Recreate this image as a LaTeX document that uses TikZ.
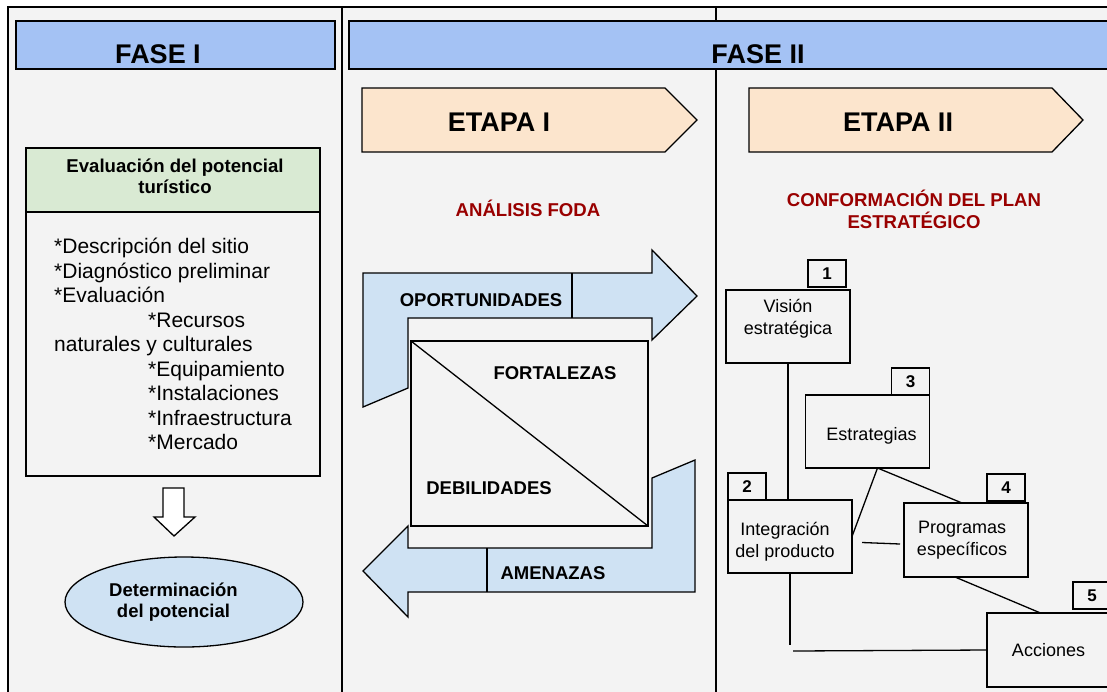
\documentclass[tikz,border=0pt]{standalone}
\usepackage{fontspec}
\setmainfont{Liberation Sans}
\usetikzlibrary{positioning,calc,shapes.geometric}

\definecolor{fasecol}{HTML}{A4C2F4}
\definecolor{etapacol}{HTML}{FCE5CD}
\definecolor{evalcol}{HTML}{D9EAD3}
\definecolor{celeste}{HTML}{CFE2F3}
\definecolor{rojo}{HTML}{990000}
\definecolor{fondo}{HTML}{F3F3F3}

\tikzset{
  caja/.style={draw, line width=1.3pt, inner sep=0pt, outer sep=0pt},
  pasotxt/.style={align=center, font=\fontsize{18}{22}\selectfont},
  paso/.style={caja, fill=fondo, minimum width=124, minimum height=73, pasotxt},
  numero/.style={caja, fill=fondo, minimum width=38, minimum height=27, font=\bfseries\fontsize{17}{20}\selectfont},
  fasetxt/.style={font=\bfseries\fontsize{27}{30}\selectfont},
  etapa/.style={draw, line width=1.3pt, fill=etapacol},
  flecha/.style={draw, line width=1.3pt, fill=celeste},
  rojotxt/.style={text=rojo, align=center, font=\bfseries\fontsize{18.6}{22}\selectfont},
  fodatxt/.style={font=\bfseries\fontsize{18.5}{20}\selectfont},
  linea/.style={line width=1.3pt}
}

\begin{document}
\begin{tikzpicture}[x=1pt, y=-1pt]
\useasboundingbox (0,0) rectangle (1107,691);

% marco y columnas
\draw[fill=fondo, line width=1.6pt] (8,7) rectangle (1120,700);
\draw[line width=1.6pt] (342,7) -- (342,700) (716,7) -- (716,700);

% fases
\draw[fill=fasecol, line width=1.3pt] (16,21) rectangle (335,69);
\node[fasetxt] (faseA) at (158,54) {FASE I};
\draw[fill=fasecol, line width=1.3pt] (349,21) rectangle (1120,69);
\node[fasetxt] (faseB) at (758,54) {FASE II};

% etapas
\draw[etapa] (362,88) -- (665,88) -- (697,120) -- (665,152) -- (362,152) -- cycle;
\node[fasetxt] (etapaA) at (499,122) {ETAPA I};
\draw[etapa] (749,88) -- (1052,88) -- (1083,120) -- (1052,152) -- (749,152) -- cycle;
\node[fasetxt] (etapaB) at (898,122) {ETAPA II};

\node[rojotxt] (foda) at (528,208) {ANÁLISIS FODA};
\node[rojotxt] (plan) at (914,209) {CONFORMACIÓN DEL PLAN\\ESTRATÉGICO};

% fase I
\node[caja, fill=evalcol, minimum width=294, minimum height=64] (evalhead) at (173,180) {};
\node[align=center, font=\bfseries\fontsize{18.6}{21}\selectfont] (evaltxt) at (175,176) {Evaluación del potencial\\turístico};
\node[caja, fill=fondo, minimum width=294, minimum height=264, align=left, font=\fontsize{21}{24.5}\selectfont, below=0pt of evalhead] (evalbody) {*Descripción del sitio\\*Diagnóstico preliminar\\*Evaluación\\\hspace*{94pt}*Recursos\\naturales y culturales\\\hspace*{94pt}*Equipamiento\\\hspace*{94pt}*Instalaciones\\\hspace*{94pt}*Infraestructura\\\hspace*{94pt}*Mercado};
\draw[fill=white, line width=1.3pt] (163,488) -- (184,488) -- (184,517) -- (195,517) -- (174,536) -- (154,517) -- (163,517) -- cycle;
\node[ellipse, draw, fill=celeste, line width=1.3pt, inner sep=0pt, minimum width=238, minimum height=90] (potencial) at (184,602) {};
\node[align=center, font=\bfseries\fontsize{18.5}{21}\selectfont] (potxt) at (173.5,602.5) {Determinación\\del potencial};

% etapa I
\draw[flecha] (363,273) -- (652,273) -- (652,250) -- (697,296) -- (652,340) -- (652,318) -- (408,318) -- (408,388) -- (363,407) -- cycle;
\draw[linea] (572,273) -- (572,318);
\node[fodatxt] (opor) at (481,300) {OPORTUNIDADES};
\node[caja, fill=fondo, minimum width=237, minimum height=185] (swot) at (529.5,433.5) {};
\draw[linea] (swot.north west) -- (swot.south east);
\node[fodatxt] (fort) at (555,373) {FORTALEZAS};
\node[fodatxt] (debil) at (489,488) {DEBILIDADES};
\draw[flecha] (695,460) -- (695,592) -- (408,592) -- (408,617) -- (363,571) -- (408,526) -- (408,548) -- (652,548) -- (652,478) -- cycle;
\draw[linea] (487,548) -- (487,592);
\node[fodatxt] (amen) at (553,573) {AMENAZAS};

% etapa II
\node[paso, label={[pasotxt, yshift=8pt]center:Visión\\estratégica}] (vision) at (788,326.5) {};
\node[paso, label={[pasotxt, yshift=-4pt, xshift=4pt]center:Estrategias}] (estr) at (867.5,431.5) {};
\node[paso, label={[pasotxt, yshift=-5pt, xshift=-5pt]center:Integración\\del producto}] (integ) at (790,536.5) {};
\node[paso, minimum height=74, label={[pasotxt, xshift=-4pt]center:Programas\\específicos}] (prog) at (966,540) {};
\node[paso, minimum height=74, minimum width=123] (acc) at (1048.5,650) {Acciones};

\node[numero, anchor=south east] (n1) at ($(vision.north east)+(-4,-3)$) {1};
\node[numero, anchor=south east] (n3) at (estr.north east) {3};
\node[numero, anchor=south west] (n2) at (integ.north west) {2};
\node[numero, anchor=south east] (n4) at ($(prog.north east)+(-3,-2)$) {4};
\node[numero, anchor=south west] (n5) at ($(acc.north west)+(86,-4)$) {5};

\coordinate (eb) at ($(estr.south)+(10,0)$);
\coordinate (ip1) at ($(integ.east)+(10,6)$);
\coordinate (ip2) at ($(prog.west)+(-4,4)$);
\coordinate (ia) at ($(integ.south)+(0,72)$);
\coordinate (ac) at ($(acc.west)+(-194,1)$);
\draw[linea] (vision.south) -- (vision.south |- integ.north);
\draw[linea] (eb) -- (integ.east);
\draw[linea] (eb) -- ($(prog.north)+(-4,0)$);
\draw[linea] (ip1) -- (ip2);
\draw[linea] ($(prog.south)+(-11,0)$) -- ($(acc.north)+(-8,0)$);
\draw[linea] (integ.south) -- (ia);
\draw[linea] (ac) -- (acc.west);

\end{tikzpicture}
\end{document}
